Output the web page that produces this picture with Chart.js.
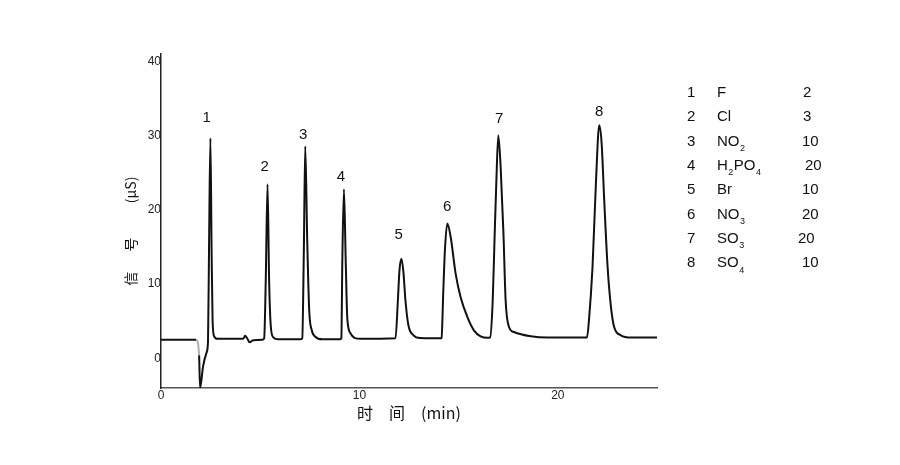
<!DOCTYPE html>
<html><head><meta charset="utf-8">
<script src="https://cdn.jsdelivr.net/npm/chart.js@4/dist/chart.umd.min.js"></script>
<style>html,body{margin:0;padding:0;background:#fff;}#wrap{width:900px;height:465px;position:relative;}</style>
</head><body><div id="wrap"><canvas id="c" width="900" height="465"></canvas></div>
<script>
// ---- data ----
const timeMin = [0,1.77,1.84,1.92,1.97,2.12,2.30,2.37,2.42,2.49,2.55,2.60,2.68,2.83,3.48,4.14,4.24,4.34,4.47,4.65,5.10,5.20,5.28,5.37,5.45,5.53,5.66,5.91,7.02,7.12,7.20,7.27,7.37,7.47,7.60,7.78,8.13,9.04,9.09,9.14,9.22,9.31,9.39,9.55,9.75,10.05,11.82,11.94,12.02,12.12,12.22,12.32,12.47,12.73,13.08,14.09,14.14,14.23,14.31,14.43,14.60,14.85,15.10,15.44,15.77,16.11,16.46,16.59,16.72,16.82,16.90,17.00,17.12,17.26,17.37,17.54,17.79,18.64,19.49,21.41,21.47,21.57,21.75,21.92,22.09,22.21,22.34,22.51,22.68,22.84,23.18,23.69,25.0];
const signal = [2.49,2.49,2.29,0.40,-4.0,-1.08,0.81,2.29,14.6,29.65,14.6,5.1,2.96,2.63,2.63,2.63,3.03,2.70,2.16,2.43,2.49,2.70,10.5,23.45,10.5,4.45,2.83,2.56,2.56,2.70,14.6,28.57,15.9,6.47,3.77,2.90,2.56,2.56,2.70,13.2,22.78,13.2,5.39,3.37,2.76,2.63,2.70,7.82,11.86,13.41,11.59,7.82,4.45,3.10,2.74,2.70,2.76,9.16,14.56,18.15,16.35,11.41,8.26,5.57,3.77,2.96,2.76,2.83,7.82,16.85,23.58,30.05,25.74,16.85,7.82,4.22,3.54,2.96,2.79,2.79,2.79,5.12,12.3,23.55,31.4,28.93,21.29,12.3,6.91,4.22,3.10,2.79,2.79];
const peakNumbers = ['1','2','3','4','5','6','7','8'];
const peakLabelTime = [2.30,5.23,7.16,9.07,11.98,14.43,17.04,22.09];
const peakLabelSignal = [32.41,25.78,30.09,24.46,16.67,20.39,32.21,33.19];
const xTicks = [0,10,20];
const yTicks = [0,10,20,30,40];
const legendNo = ['1','2','3','4','5','6','7','8'];
const legendIon = ['F','Cl','NO_2','H_2PO_4','Br','NO_3','SO_3','SO_4'];
const legendConc = ['2','3','10','20','10','20','20','10'];

const points = timeMin.map((t,i)=>({x:t,y:signal[i]}));
const BASE_FONT = '"Liberation Sans", Arial, sans-serif';

const peakLabelPlugin = {
  id:'peakLabels',
  afterDatasetsDraw(chart){
    const {ctx, scales:{x,y}} = chart;
    ctx.save();
    ctx.font = '15px ' + BASE_FONT;
    ctx.fillStyle = '#111';
    ctx.textAlign = 'center';
    ctx.textBaseline = 'middle';
    peakNumbers.forEach((n,i)=>{
      ctx.fillText(n, x.getPixelForValue(peakLabelTime[i]), y.getPixelForValue(peakLabelSignal[i]));
    });
    ctx.restore();
  }
};

const legendPlugin = {
  id:'ionTable',
  afterDraw(chart){
    const ctx = chart.ctx;
    ctx.save();
    ctx.fillStyle = '#111';
    ctx.textBaseline = 'middle';
    ctx.textAlign = 'left';
    const top = 93, step = 24.3;
    const concX = [803,803,802,805,802,802,798,802];
    legendNo.forEach((n,i)=>{
      const yy = top + i*step;
      ctx.font = '15px ' + BASE_FONT;
      ctx.fillText(n, 687, yy);
      let xx = 717;
      const s = legendIon[i];
      for (let k=0;k<s.length;k++){
        if (s[k]==='_'){
          ctx.font = '9px ' + BASE_FONT;
          ctx.fillText(s[k+1], xx+0.5, yy+7);
          xx += ctx.measureText(s[k+1]).width + 1;
          k++;
        } else {
          ctx.font = '15px ' + BASE_FONT;
          ctx.fillText(s[k], xx, yy);
          xx += ctx.measureText(s[k]).width;
        }
      }
      ctx.font = '15px ' + BASE_FONT;
      ctx.fillText(legendConc[i], concX[i], yy);
    });
    ctx.restore();
  }
};

new Chart(document.getElementById('c'), {
  type:'line',
  data:{datasets:[{
    data: points,
    borderColor:'#111',
    borderWidth:2,
    pointRadius:0,
    cubicInterpolationMode:'monotone',
    fill:false,
    segment:{
      borderColor: c => (c.p0.parsed.x >= 1.76 && c.p1.parsed.x <= 1.93) ? '#b0b0b0' : '#111'
    }
  }]},
  options:{
    responsive:false,
    animation:false,
    layout:{padding:{left:110,right:243,top:54,bottom:30}},
    plugins:{legend:{display:false},tooltip:{enabled:false}},
    scales:{
      x:{
        type:'linear', min:0, max:25,
        afterBuildTicks: s => { s.ticks = xTicks.map(v=>({value:v})); },
        afterFit: s => { s.height = 47; },
        grid:{display:false, drawTicks:false},
        border:{display:true, color:'#555', width:1.5},
        ticks:{font:{family:BASE_FONT,size:12}, color:'#222', padding:0, maxRotation:0},
        title:{display:true, text:'时　间　(min)', color:'#111',
          font:{family:'"Noto Sans CJK SC", sans-serif', size:16}, padding:{top:0,bottom:12}}
      },
      y:{
        type:'linear', min:-4, max:41,
        afterBuildTicks: s => { s.ticks = yTicks.map(v=>({value:v})); },
        afterFit: s => { s.width = 51; },
        grid:{display:false, drawTicks:false},
        border:{display:true, color:'#222', width:1.5},
        ticks:{font:{family:BASE_FONT,size:12}, color:'#222', padding:0},
        title:{display:true, text:'信　  号　　  (μS)　  ', color:'#111',
          font:{family:'"Noto Sans CJK SC", sans-serif', size:14}, padding:{top:12,bottom:0}}
      }
    }
  },
  plugins:[peakLabelPlugin, legendPlugin]
});
</script></body></html>
